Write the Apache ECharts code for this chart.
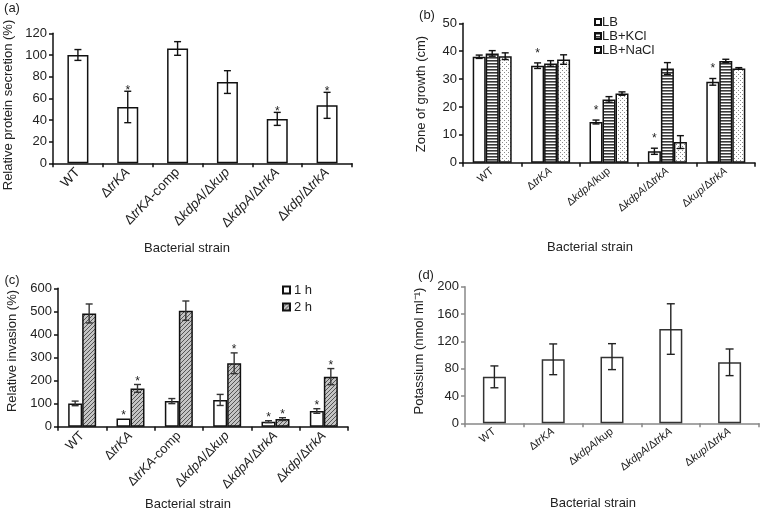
<!DOCTYPE html>
<html><head><meta charset="utf-8">
<script src="https://cdn.jsdelivr.net/npm/echarts@6/dist/echarts.min.js"></script>
<style>html,body{margin:0;padding:0;background:#fff}#c{width:760px;height:511px}</style>
</head><body><div id="c"></div>
<script>
// ---- Panel (a): relative protein secretion ----
const catsA = ['WT','ΔtrKA','ΔtrKA-comp','ΔkdpA/Δkup','ΔkdpA/ΔtrkA','Δkdp/ΔtrkA'];
const secretion = [100,52,106,75,41,53.5];
const secretionErr = [5,14.5,6.3,10.5,6,12];
const secretionSig = [0,1,0,0,1,1];

// ---- Panel (b): zone of growth ----
const catsB = ['WT','ΔtrKA','ΔkdpA/kup','ΔkdpA/ΔtrkA','Δkup/ΔtrkA'];
const growthLB = [38.0,34.8,14.6,4.1,29.0];
const growthLBErr = [0.6,1.0,0.7,1.1,1.2];
const growthLBSig = [0,1,1,1,1];
const growthKCl = [39.2,35.6,22.7,33.8,36.5];
const growthKClErr = [1.0,1.0,1.0,2.1,0.6];
const growthNaCl = [38.2,37.0,24.8,7.4,33.8];
const growthNaClErr = [1.2,1.7,0.6,2.3,0.3];

// ---- Panel (c): relative invasion ----
const catsC = ['WT','ΔtrKA','ΔtrKA-comp','ΔkdpA/Δkup','ΔkdpA/ΔtrkA','Δkdp/ΔtrkA'];
const invasion1h = [101,36,111,116,22,68];
const invasion1hErr = [10,0,11,24,4,10];
const invasion1hSig = [0,1,0,0,1,1];
const invasion2h = [491,166,503,275,33,217];
const invasion2hErr = [41,17,42,45,6,35];
const invasion2hSig = [0,1,0,1,1,1];

// ---- Panel (d): potassium ----
const catsD = ['WT','ΔtrKA','ΔkdpA/kup','ΔkdpA/ΔtrkA','Δkup/ΔtrkA'];
const potassium = [68,93.7,97.6,138,89.3];
const potassiumErr = [16,22.5,19,37,19.5];

const FONT = "'Liberation Sans', Arial, sans-serif";

function pat(draw, w, h){
  const c = document.createElement('canvas'); c.width = w; c.height = h;
  const g = c.getContext('2d'); g.fillStyle = '#fff'; g.fillRect(0,0,w,h); draw(g);
  return {image: c, repeat: 'repeat'};
}
const stripe = pat(g=>{ g.fillStyle='#3a3a3a'; g.fillRect(0,0,4,1.6); }, 4, 3);
const dots = pat(g=>{ g.fillStyle='#8a8a8a'; g.fillRect(0,0,1,1); g.fillRect(2,2,1,1); }, 4, 4);
const hatch = pat(g=>{
  g.fillStyle='#c4c4c4'; g.fillRect(0,0,4,4);
  g.strokeStyle='#555'; g.lineWidth=1; g.beginPath();
  g.moveTo(-1,5); g.lineTo(5,-1); g.moveTo(3,5); g.lineTo(5,3); g.moveTo(-1,1); g.lineTo(1,-1);
  g.stroke();
}, 4, 4);

function fmtCat(s){ return s.replace(/Δ([A-Za-z]+)/g, 'Δ{i|$1}'); }

function xAxisCfg(grid, cats, fs, rot, color){
  return {type:'category', gridIndex:grid, data:cats,
    axisLine:{show:true, lineStyle:{color:color, width:1.5}},
    axisTick:{show:true, length:4, lineStyle:{color:color, width:1.5}},
    axisLabel:{rotate:rot, margin:7, color:'#222', fontFamily:FONT, fontSize:fs,
      formatter:fmtCat, rich:{i:{fontStyle:'italic', fontFamily:FONT, fontSize:fs, color:'#222'}}},
    splitLine:{show:false}};
}
function yAxisCfg(grid, max, interval, color){
  return {type:'value', gridIndex:grid, min:0, max:max, interval:interval,
    axisLine:{show:true, lineStyle:{color:color, width:1.5}},
    axisTick:{show:true, length:4, lineStyle:{color:color, width:1.5}},
    axisLabel:{color:'#222', fontFamily:FONT, fontSize:13, margin:6},
    splitLine:{show:false}};
}
function barSeries(name, grid, data, fill, barW, border){
  return {name:name, type:'bar', xAxisIndex:grid, yAxisIndex:grid, data:data,
    barWidth:barW, barGap:'0%',
    itemStyle:{color:fill, borderColor:border, borderWidth:1.5}, silent:true};
}
function errSeries(grid, vals, errs, sig, offset, capW, starGap, color){
  return {type:'custom', xAxisIndex:grid, yAxisIndex:grid, z:5, silent:true,
    data: vals.map((v,i)=>[i, v, errs[i], sig ? sig[i] : 0]),
    renderItem(params, api){
      const i = api.value(0), v = api.value(1), e = api.value(2), s = api.value(3);
      const hi = api.coord([i, v + e]), lo = api.coord([i, v - e]);
      const x = hi[0] + offset;
      const st = {stroke: color, lineWidth: 1.4};
      const ch = [];
      if (e > 0) {
        ch.push({type:'line', shape:{x1:x, y1:hi[1], x2:x, y2:lo[1]}, style:st});
        ch.push({type:'line', shape:{x1:x-capW, y1:hi[1], x2:x+capW, y2:hi[1]}, style:st});
        ch.push({type:'line', shape:{x1:x-capW, y1:lo[1], x2:x+capW, y2:lo[1]}, style:st});
      }
      if (s) ch.push({type:'text', style:{text:'*', x:x, y:hi[1]-starGap+3, align:'center', verticalAlign:'middle', fill:'#222', font:'12px ' + FONT}});
      return {type:'group', children:ch};
    }};
}

function txt(x, y, text, size, rot){
  return {type:'text', x:x, y:y, rotation: rot || 0,
    style:{text:text, fill:'#222', font: size + 'px ' + FONT, align:'center', verticalAlign:'middle'}};
}

const chart = echarts.init(document.getElementById('c'), null, {renderer:'canvas'});
chart.setOption({
  animation:false,
  backgroundColor:'#fff',
  grid:[
    {left:53, top:33.3, width:299, height:130, containLabel:false, outerBoundsMode:'none'},
    {left:463, top:23.3, width:292, height:139.4, containLabel:false, outerBoundsMode:'none'},
    {left:58, top:288.3, width:290, height:138.4, containLabel:false, outerBoundsMode:'none'},
    {left:465, top:286.7, width:294, height:136.6, containLabel:false, outerBoundsMode:'none'}
  ],
  xAxis:[
    xAxisCfg(0, catsA, 13.5, 46, '#111'),
    xAxisCfg(1, catsB, 11, 40, '#111'),
    xAxisCfg(2, catsC, 13, 46, '#111'),
    xAxisCfg(3, catsD, 11, 38, '#888')
  ],
  yAxis:[
    yAxisCfg(0, 120, 20, '#111'),
    yAxisCfg(1, 50, 10, '#111'),
    yAxisCfg(2, 600, 100, '#111'),
    yAxisCfg(3, 200, 40, '#888')
  ],
  legend:[
    {orient:'vertical', left:594, top:15, padding:0, itemWidth:6, itemHeight:6, itemGap:0, icon:'rect',
      textStyle:{fontFamily:FONT, fontSize:13, color:'#222', lineHeight:14, padding:[0,0,0,-4]},
      data:['LB','LB+KCl','LB+NaCl']},
    {orient:'vertical', left:282, top:283, padding:0, itemWidth:7, itemHeight:7, itemGap:3, icon:'rect',
      textStyle:{fontFamily:FONT, fontSize:13, color:'#222', lineHeight:14, padding:[0,0,0,-1]},
      data:['1 h','2 h']}
  ],
  series:[
    barSeries('Secretion', 0, secretion, '#fff', 21, '#111'),
    errSeries(0, secretion, secretionErr, secretionSig, 0, 3.5, 4, '#111'),

    barSeries('LB', 1, growthLB, '#fff', 13, '#111'),
    barSeries('LB+KCl', 1, growthKCl, stripe, 13, '#111'),
    barSeries('LB+NaCl', 1, growthNaCl, dots, 13, '#111'),
    errSeries(1, growthLB, growthLBErr, growthLBSig, -13, 3.5, 12.5, '#111'),
    errSeries(1, growthKCl, growthKClErr, null, 0, 3.5, 12.5, '#111'),
    errSeries(1, growthNaCl, growthNaClErr, null, 13, 3.5, 12.5, '#111'),

    barSeries('1 h', 2, invasion1h, '#fff', 14, '#111'),
    barSeries('2 h', 2, invasion2h, hatch, 14, '#111'),
    errSeries(2, invasion1h, invasion1hErr, invasion1hSig, -7, 3.5, 6, '#333'),
    errSeries(2, invasion2h, invasion2hErr, invasion2hSig, 7, 3.5, 6, '#333'),

    barSeries('Potassium', 3, potassium, '#fff', 23, '#333'),
    errSeries(3, potassium, potassiumErr, null, 0, 4, 0, '#222')
  ],
  graphic:[
    txt(12, 8, '(a)', 13), txt(427, 15, '(b)', 13), txt(12, 280, '(c)', 13), txt(426, 275, '(d)', 13),
    txt(8, 105, 'Relative protein secretion (%)', 13, Math.PI/2),
    txt(421, 94, 'Zone of growth (cm)', 13, Math.PI/2),
    txt(12, 351, 'Relative invasion (%)', 13, Math.PI/2),
    txt(419, 351, 'Potassium (nmol ml⁻¹)', 13, Math.PI/2),
    txt(187, 248, 'Bacterial strain', 13),
    txt(590, 247, 'Bacterial strain', 13),
    txt(188, 504, 'Bacterial strain', 13),
    txt(593, 503, 'Bacterial strain', 13)
  ]
});
</script>
</body></html>
